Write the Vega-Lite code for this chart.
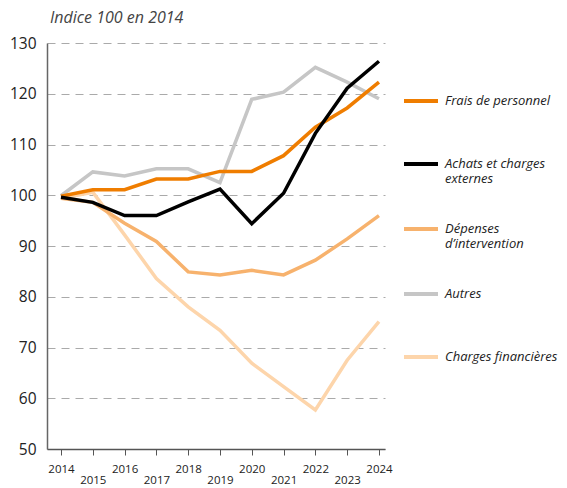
{
  "$schema": "https://vega.github.io/schema/vega-lite/v6.json",
  "width": 338,
  "height": 406,
  "autosize": {"type": "none"},
  "padding": {"left": 47, "top": 43, "right": 182, "bottom": 39},
  "background": "white",
  "title": {
    "text": "Indice 100 en 2014",
    "anchor": "start",
    "frame": "group",
    "font": "Open Sans",
    "fontSize": 16,
    "fontStyle": "italic",
    "fontWeight": "normal",
    "color": "#444444",
    "offset": 10,
    "dx": 3
  },
  "config": {
    "view": {"stroke": null},
    "font": "Open Sans"
  },
  "data": {
    "values": [
      {"year": 2014, "serie": "Autres", "value": 99.9},
      {"year": 2015, "serie": "Autres", "value": 104.6},
      {"year": 2016, "serie": "Autres", "value": 103.8},
      {"year": 2017, "serie": "Autres", "value": 105.2},
      {"year": 2018, "serie": "Autres", "value": 105.2},
      {"year": 2019, "serie": "Autres", "value": 102.5},
      {"year": 2020, "serie": "Autres", "value": 118.9},
      {"year": 2021, "serie": "Autres", "value": 120.3},
      {"year": 2022, "serie": "Autres", "value": 125.2},
      {"year": 2023, "serie": "Autres", "value": 122.3},
      {"year": 2024, "serie": "Autres", "value": 119.0},
      {"year": 2014, "serie": "Charges financières", "value": 99.4},
      {"year": 2015, "serie": "Charges financières", "value": 100.6},
      {"year": 2016, "serie": "Charges financières", "value": 92.2},
      {"year": 2017, "serie": "Charges financières", "value": 83.6},
      {"year": 2018, "serie": "Charges financières", "value": 78.0},
      {"year": 2019, "serie": "Charges financières", "value": 73.4},
      {"year": 2020, "serie": "Charges financières", "value": 66.9},
      {"year": 2021, "serie": "Charges financières", "value": 62.3},
      {"year": 2022, "serie": "Charges financières", "value": 57.7},
      {"year": 2023, "serie": "Charges financières", "value": 67.5},
      {"year": 2024, "serie": "Charges financières", "value": 75.1},
      {"year": 2014, "serie": "Dépenses d’intervention", "value": 99.4},
      {"year": 2015, "serie": "Dépenses d’intervention", "value": 98.6},
      {"year": 2016, "serie": "Dépenses d’intervention", "value": 94.5},
      {"year": 2017, "serie": "Dépenses d’intervention", "value": 90.9},
      {"year": 2018, "serie": "Dépenses d’intervention", "value": 84.9},
      {"year": 2019, "serie": "Dépenses d’intervention", "value": 84.3},
      {"year": 2020, "serie": "Dépenses d’intervention", "value": 85.2},
      {"year": 2021, "serie": "Dépenses d’intervention", "value": 84.3},
      {"year": 2022, "serie": "Dépenses d’intervention", "value": 87.2},
      {"year": 2023, "serie": "Dépenses d’intervention", "value": 91.4},
      {"year": 2024, "serie": "Dépenses d’intervention", "value": 96.0},
      {"year": 2014, "serie": "Frais de personnel", "value": 99.8},
      {"year": 2015, "serie": "Frais de personnel", "value": 101.1},
      {"year": 2016, "serie": "Frais de personnel", "value": 101.1},
      {"year": 2017, "serie": "Frais de personnel", "value": 103.2},
      {"year": 2018, "serie": "Frais de personnel", "value": 103.2},
      {"year": 2019, "serie": "Frais de personnel", "value": 104.7},
      {"year": 2020, "serie": "Frais de personnel", "value": 104.7},
      {"year": 2021, "serie": "Frais de personnel", "value": 107.8},
      {"year": 2022, "serie": "Frais de personnel", "value": 113.4},
      {"year": 2023, "serie": "Frais de personnel", "value": 117.2},
      {"year": 2024, "serie": "Frais de personnel", "value": 122.3},
      {"year": 2014, "serie": "Achats et charges externes", "value": 99.6},
      {"year": 2015, "serie": "Achats et charges externes", "value": 98.6},
      {"year": 2016, "serie": "Achats et charges externes", "value": 96.0},
      {"year": 2017, "serie": "Achats et charges externes", "value": 96.0},
      {"year": 2018, "serie": "Achats et charges externes", "value": 98.7},
      {"year": 2019, "serie": "Achats et charges externes", "value": 101.2},
      {"year": 2020, "serie": "Achats et charges externes", "value": 94.4},
      {"year": 2021, "serie": "Achats et charges externes", "value": 100.4},
      {"year": 2022, "serie": "Achats et charges externes", "value": 112.2},
      {"year": 2023, "serie": "Achats et charges externes", "value": 121.1},
      {"year": 2024, "serie": "Achats et charges externes", "value": 126.4}
    ]
  },
  "mark": {"type": "line", "strokeWidth": 3.5, "strokeJoin": "miter", "strokeCap": "butt"},
  "encoding": {
    "x": {
      "field": "year",
      "type": "quantitative",
      "scale": {"domain": [2013.56, 2024.19], "nice": false, "zero": false},
      "axis": {
        "title": null,
        "values": [2014, 2015, 2016, 2017, 2018, 2019, 2020, 2021, 2022, 2023, 2024],
        "format": "d",
        "labelExpr": "datum.value % 2 == 1 ? ['', datum.label] : datum.label",
        "labelFont": "Open Sans",
        "labelFontSize": 11.5,
        "labelColor": "#222222",
        "labelLineHeight": 11,
        "labelBaseline": "top",
        "labelPadding": 8,
        "labelOverlap": false,
        "labelFlush": false,
        "tickSize": 6,
        "tickColor": "#555555",
        "domainColor": "#555555",
        "domainWidth": 1.5,
        "grid": false
      }
    },
    "y": {
      "field": "value",
      "type": "quantitative",
      "scale": {"domain": [50, 130], "nice": false, "zero": false},
      "axis": {
        "title": null,
        "values": [50, 60, 70, 80, 90, 100, 110, 120, 130],
        "labelFont": "Open Sans",
        "labelFontSize": 15.5,
        "labelColor": "#222222",
        "labelPadding": 11,
        "ticks": false,
        "domainColor": "#666666",
        "domainWidth": 1.5,
        "grid": true,
        "gridColor": "#aaaaaa",
        "gridDash": [8, 6],
        "gridWidth": 1
      }
    },
    "color": {
      "field": "serie",
      "type": "nominal",
      "scale": {
        "domain": ["Frais de personnel", "Achats et charges externes", "Dépenses d’intervention", "Autres", "Charges financières"],
        "range": ["#EF7D00", "#000000", "#F7B26D", "#C6C6C6", "#FDD5AB"]
      },
      "legend": {
        "title": null,
        "orient": "none",
        "legendX": 355,
        "legendY": 38,
        "padding": 0,
        "symbolType": "stroke",
        "symbolSize": 1156,
        "symbolStrokeWidth": 4,
        "clipHeight": 40,
        "rowPadding": 23,
        "labelOffset": 5,
        "labelFont": "Open Sans",
        "labelFontSize": 13,
        "labelFontStyle": "italic",
        "labelColor": "#222222",
        "labelLimit": 200,
        "labelExpr": "datum.label == 'Achats et charges externes' ? ['Achats et charges', 'externes'] : datum.label == 'Dépenses d’intervention' ? ['Dépenses', 'd’intervention'] : datum.label"
      }
    }
  }
}
